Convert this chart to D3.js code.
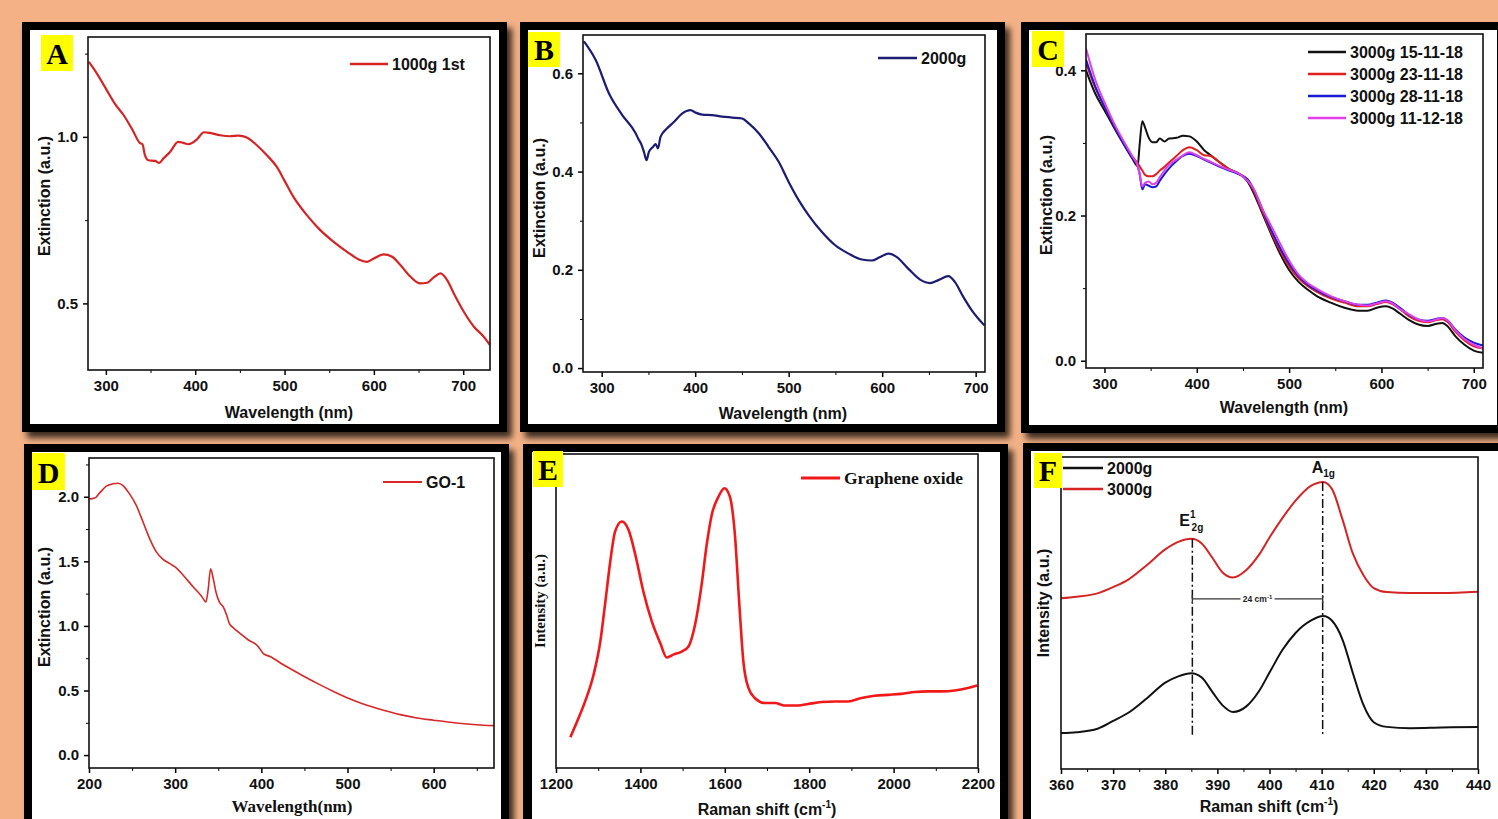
<!DOCTYPE html>
<html>
<head>
<meta charset="utf-8">
<script src="https://cdn.jsdelivr.net/npm/d3@7"></script>
<style>
  body { margin: 0; background: #f3b185; overflow: hidden; }
</style>
</head>
<body>
<script>
// ---- data ----
// A: 1000g 1st
const wlA = [281, 290, 300, 310, 320, 330, 338, 341, 343.7, 347.5, 355, 359.8, 364.3, 371.8, 381, 386.7, 392.3, 401.7, 409.9, 416.6, 427.9, 439, 448.4, 457.8, 469, 480.2, 491.4, 500.7, 510, 525, 540, 555, 570, 583, 592.3, 600, 611, 620.4, 629.7, 641, 652, 659.6, 667, 674.6, 682, 689.5, 700.7, 712, 723, 730];
const extA = [1.225, 1.19, 1.145, 1.10, 1.065, 1.02, 0.982, 0.978, 0.945, 0.93, 0.928, 0.922, 0.935, 0.955, 0.985, 0.982, 0.978, 0.992, 1.014, 1.012, 1.005, 1.002, 1.004, 0.998, 0.975, 0.945, 0.91, 0.865, 0.82, 0.765, 0.72, 0.685, 0.655, 0.632, 0.625, 0.635, 0.647, 0.64, 0.615, 0.58, 0.56, 0.562, 0.578, 0.59, 0.57, 0.53, 0.475, 0.43, 0.40, 0.375];

// B: 2000g
const wlB = [281, 293.6, 307.8, 322, 336.3, 339.1, 342.7, 345.2, 348, 350.5, 354.8, 357.7, 360.1, 363, 370, 377.2, 386, 395, 400.4, 407.5, 418.1, 428.8, 439.5, 450.2, 457.3, 468, 478.6, 489.3, 500, 510.7, 521.4, 535.6, 549.8, 564, 578.3, 588.9, 597.8, 606.8, 615.7, 628.1, 640.6, 651.2, 660.1, 670.8, 677.9, 686.8, 695.7, 709.3];
const extB = [0.665, 0.627, 0.559, 0.515, 0.478, 0.467, 0.454, 0.44, 0.423, 0.44, 0.45, 0.456, 0.447, 0.471, 0.488, 0.501, 0.518, 0.525, 0.52, 0.516, 0.515, 0.512, 0.51, 0.508, 0.498, 0.478, 0.45, 0.42, 0.379, 0.342, 0.311, 0.277, 0.25, 0.233, 0.221, 0.219, 0.226, 0.233, 0.226, 0.202, 0.18, 0.173, 0.179, 0.187, 0.175, 0.145, 0.118, 0.087];

// C: 3000g, four dates on one wavelength grid
const namesC = ["3000g 15-11-18", "3000g 23-11-18", "3000g 28-11-18", "3000g 11-12-18"];
const wlC = [280, 290, 300, 310, 320, 330, 336, 338, 341, 344, 348, 352, 356, 360, 365, 370, 378, 385, 392, 400, 408, 415, 425, 435, 445, 455, 462, 470, 480, 490, 500, 510, 520, 530, 545, 560, 575, 585, 595, 605, 612, 620, 630, 640, 650, 660, 666, 672, 680, 690, 700, 710];
const extC1 = [0.400, 0.368, 0.345, 0.322, 0.300, 0.279, 0.268, 0.296, 0.330, 0.321, 0.307, 0.301, 0.301, 0.306, 0.302, 0.306, 0.307, 0.310, 0.309, 0.302, 0.290, 0.283, 0.273, 0.264, 0.258, 0.247, 0.230, 0.206, 0.176, 0.148, 0.125, 0.109, 0.098, 0.089, 0.080, 0.073, 0.069, 0.069, 0.073, 0.075, 0.072, 0.065, 0.056, 0.050, 0.048, 0.051, 0.052, 0.047, 0.034, 0.022, 0.014, 0.011];
const extC2 = [0.410, 0.376, 0.350, 0.325, 0.303, 0.281, 0.272, 0.268, 0.262, 0.256, 0.254, 0.254, 0.257, 0.262, 0.267, 0.273, 0.282, 0.290, 0.294, 0.290, 0.283, 0.282, 0.273, 0.264, 0.258, 0.249, 0.233, 0.209, 0.179, 0.152, 0.130, 0.114, 0.103, 0.095, 0.086, 0.080, 0.075, 0.075, 0.078, 0.081, 0.078, 0.071, 0.061, 0.055, 0.053, 0.056, 0.057, 0.053, 0.040, 0.028, 0.020, 0.017];
const extC3 = [0.415, 0.378, 0.350, 0.325, 0.301, 0.280, 0.268, 0.258, 0.236, 0.243, 0.241, 0.239, 0.240, 0.248, 0.257, 0.265, 0.275, 0.282, 0.285, 0.282, 0.277, 0.273, 0.267, 0.262, 0.257, 0.250, 0.235, 0.212, 0.182, 0.156, 0.134, 0.117, 0.105, 0.097, 0.088, 0.082, 0.077, 0.077, 0.080, 0.083, 0.080, 0.073, 0.063, 0.057, 0.055, 0.058, 0.059, 0.055, 0.043, 0.032, 0.025, 0.021];
const extC4 = [0.430, 0.387, 0.356, 0.328, 0.304, 0.282, 0.268, 0.258, 0.240, 0.245, 0.247, 0.243, 0.245, 0.253, 0.262, 0.270, 0.277, 0.283, 0.287, 0.283, 0.278, 0.274, 0.268, 0.263, 0.258, 0.248, 0.236, 0.212, 0.187, 0.162, 0.138, 0.119, 0.107, 0.099, 0.089, 0.082, 0.077, 0.076, 0.079, 0.082, 0.079, 0.071, 0.064, 0.057, 0.054, 0.057, 0.059, 0.055, 0.042, 0.030, 0.022, 0.017];

// D: GO-1
const wlD = [200, 206.6, 212.4, 220.2, 228, 233.7, 239.5, 247.3, 255, 262.8, 270.5, 278.3, 286, 293.8, 301.6, 309.3, 321, 330.6, 335.7, 338.4, 341.1, 344.2, 347.3, 351.2, 355.8, 359.7, 362.8, 367.4, 375.2, 384.9, 394.6, 399.2, 402.3, 410.1, 425.6, 445, 464.3, 483.7, 503.1, 522.5, 541.9, 561.2, 580.6, 600, 619.4, 638.8, 658.1, 670];
const extD = [1.982, 1.99, 2.03, 2.082, 2.1, 2.105, 2.087, 2.02, 1.931, 1.803, 1.674, 1.571, 1.515, 1.482, 1.448, 1.392, 1.302, 1.23, 1.186, 1.289, 1.443, 1.366, 1.263, 1.186, 1.148, 1.084, 1.02, 0.986, 0.942, 0.891, 0.852, 0.814, 0.786, 0.763, 0.699, 0.626, 0.557, 0.493, 0.434, 0.385, 0.347, 0.313, 0.287, 0.27, 0.254, 0.241, 0.231, 0.228];

// E: Raman of graphene oxide (arbitrary intensity)
const shiftE = [1234, 1250, 1269, 1289, 1305, 1317, 1328.5, 1340, 1356, 1372, 1388, 1407, 1427, 1447, 1462.5, 1478, 1498, 1514, 1529.5, 1545, 1557, 1569, 1585, 1599, 1612, 1624, 1634, 1644, 1656, 1671, 1695, 1719, 1742, 1774, 1798, 1829, 1861, 1892, 1924, 1955, 1987, 2018, 2050, 2081, 2113, 2145, 2176, 2198];
const intE = [9.8, 14.8, 21.2, 29.7, 40.3, 53, 65.7, 75.3, 78.5, 75.8, 67.9, 56.2, 46.7, 39.8, 35.2, 36.1, 37.1, 38.7, 45.6, 58.3, 71, 80.6, 86.4, 89.1, 86.4, 74.2, 53, 33.9, 25.5, 22.3, 20.7, 20.7, 19.9, 19.9, 20.4, 21, 21.2, 21.2, 22.3, 23, 23.3, 23.6, 24.2, 24.4, 24.4, 24.7, 25.5, 26.3];

// F: MoS2 Raman, 2000g and 3000g (offset, arbitrary intensity)
const shiftF = [360, 363, 367, 370, 373, 376.5, 380, 382.5, 385, 387, 389, 391, 393, 395.5, 398, 400, 402.5, 405, 408, 410.3, 412, 414, 416, 418, 420, 422.5, 427, 433, 440];
const intF2000 = [11.5, 11.8, 12.9, 15.4, 18.1, 22.7, 27.7, 29.7, 30.7, 29.3, 24.8, 20.4, 18.3, 20.0, 25.0, 30.9, 38.2, 43.6, 47.6, 49.0, 47.5, 41.5, 30.7, 20.6, 15.0, 13.5, 13.1, 13.3, 13.5];
const intF3000 = [54.7, 55.2, 56.3, 58.3, 60.8, 65.4, 70.4, 72.8, 73.8, 72.3, 67.8, 63.0, 61.4, 63.7, 68.7, 74.2, 80.5, 86.0, 90.8, 92.0, 89.7, 80.0, 69.0, 62.2, 58.0, 56.7, 56.4, 56.4, 56.8];
const peaksF = [385.2, 410.2];

// ---- drawing ----
const W = 1498, H = 819;
const sans = "'Liberation Sans', Arial, sans-serif";
const serif = "'Liberation Serif', 'Times New Roman', serif";

const svg = d3.select("body").append("svg").attr("width", W).attr("height", H);
const defs = svg.append("defs");
defs.append("filter").attr("id", "shadow")
    .attr("x", "-5%").attr("y", "-5%").attr("width", "115%").attr("height", "115%")
  .append("feDropShadow")
    .attr("dx", 5).attr("dy", 6).attr("stdDeviation", 3)
    .attr("flood-color", "#000").attr("flood-opacity", 0.75);

svg.append("rect").attr("width", W).attr("height", H).attr("fill", "#f3b185");

function frame(o, i) {
    svg.append("rect")
        .attr("x", o[0]).attr("y", o[1])
        .attr("width", o[2] - o[0]).attr("height", o[3] - o[1])
        .attr("fill", "#000").attr("filter", "url(#shadow)");
    svg.append("rect")
        .attr("x", i[0]).attr("y", i[1])
        .attr("width", i[2] - i[0]).attr("height", i[3] - i[1])
        .attr("fill", "#fff");
}

let clipN = 0;
function panel(p) {
    frame(p.outer, p.inner);
    const [l, t, r, b] = p.plot;
    const x = d3.scaleLinear().domain(p.xDomain).range([l, r]);
    const y = d3.scaleLinear().domain(p.yDomain).range([b, t]);
    const g = svg.append("g");

    const id = "clip" + (clipN++);
    defs.append("clipPath").attr("id", id)
        .append("rect").attr("x", l).attr("y", t).attr("width", r - l).attr("height", b - t);
    const plotG = g.append("g").attr("clip-path", "url(#" + id + ")");

    // x axis
    g.append("g").attr("transform", "translate(0," + b + ")")
        .call(d3.axisBottom(x).tickValues(p.xMinor).tickSize(3).tickFormat(""))
        .call(a => a.select(".domain").remove());
    const xa = g.append("g").attr("transform", "translate(0," + b + ")")
        .call(d3.axisBottom(x).tickValues(p.xTicks).tickSize(5).tickPadding(5).tickFormat(d3.format("d")));
    xa.select(".domain").remove();
    xa.selectAll(".tick line").attr("stroke-width", 1.5);
    xa.selectAll("text").attr("font-family", sans).attr("font-size", 15)
        .attr("font-weight", "bold").attr("fill", "#111");

    // y axis
    if (p.yTicks) {
        g.append("g").attr("transform", "translate(" + l + ",0)")
            .call(d3.axisLeft(y).tickValues(p.yMinor).tickSize(3).tickFormat(""))
            .call(a => a.select(".domain").remove());
        const ya = g.append("g").attr("transform", "translate(" + l + ",0)")
            .call(d3.axisLeft(y).tickValues(p.yTicks).tickSize(5).tickPadding(5).tickFormat(d3.format(".1f")));
        ya.select(".domain").remove();
        ya.selectAll(".tick line").attr("stroke-width", 1.5);
        ya.selectAll("text").attr("font-family", sans).attr("font-size", 15)
            .attr("font-weight", "bold").attr("fill", "#111");
    }

    g.append("rect").attr("x", l).attr("y", t).attr("width", r - l).attr("height", b - t)
        .attr("fill", "none").attr("stroke", "#111").attr("stroke-width", 1.6);

    // axis titles
    const xt = g.append("text").attr("x", p.xTitle[0]).attr("y", p.xTitle[1])
        .attr("text-anchor", "middle").attr("font-family", p.xFont || sans)
        .attr("font-size", p.xFontSize || 16).attr("font-weight", "bold").attr("fill", "#111");
    if (p.xSup) {
        xt.append("tspan").text(p.xLabel);
        xt.append("tspan").attr("font-size", 10).attr("dy", -7).text("-1");
        xt.append("tspan").attr("dy", 7).text(")");
    } else {
        xt.text(p.xLabel);
    }
    g.append("text")
        .attr("transform", "translate(" + p.yTitle[0] + "," + p.yTitle[1] + ") rotate(-90)")
        .attr("text-anchor", "middle").attr("dy", "0.35em")
        .attr("font-family", p.yFont || sans).attr("font-size", p.yFontSize || 16)
        .attr("font-weight", "bold").attr("fill", "#111")
        .text(p.yLabel);

    return { g, plotG, x, y };
}

function drawLine(P, xs, ys, color, width) {
    const line = d3.line()
        .x((d, i) => P.x(xs[i]))
        .y(d => P.y(d))
        .curve(d3.curveMonotoneX);
    P.plotG.append("path")
        .datum(ys)
        .attr("fill", "none")
        .attr("stroke", color)
        .attr("stroke-width", width)
        .attr("stroke-linejoin", "round")
        .attr("d", line);
}

function legend(items, x0, x1, y0, dy, font, width, size) {
    items.forEach((it, i) => {
        const yy = y0 + i * dy;
        svg.append("line").attr("x1", x0).attr("x2", x1).attr("y1", yy).attr("y2", yy)
            .attr("stroke", it.color).attr("stroke-width", width);
        svg.append("text").attr("x", x1 + 4).attr("y", yy).attr("dy", "0.35em")
            .attr("font-family", font || sans).attr("font-size", size || 16).attr("font-weight", "bold")
            .attr("fill", "#111").text(it.name);
    });
}

function tag(x, y, w, h, letter) {
    svg.append("rect").attr("x", x).attr("y", y).attr("width", w).attr("height", h).attr("fill", "#ffff00");
    svg.append("text").attr("x", x + w / 2).attr("y", y + h - 7)
        .attr("text-anchor", "middle").attr("font-family", serif)
        .attr("font-size", 30).attr("font-weight", "bold").attr("fill", "#000").text(letter);
}

const wlMinor300 = [350, 450, 550, 650];

// Panel A
const PA = panel({
    outer: [22, 22, 507, 432], inner: [30, 30, 499, 424], plot: [88, 37, 490, 370],
    xDomain: [280, 730], yDomain: [0.3, 1.3],
    xTicks: [300, 400, 500, 600, 700], xMinor: wlMinor300,
    yTicks: [0.5, 1.0], yMinor: [0.75, 1.25],
    xLabel: "Wavelength (nm)", xTitle: [289, 418],
    yLabel: "Extinction (a.u.)", yTitle: [44, 196]
});
drawLine(PA, wlA, extA, "#d42424", 2.2);
legend([{ name: "1000g 1st", color: "#d42424" }], 350, 388, 64, 0, sans, 2.5);

// Panel B
const PB = panel({
    outer: [520, 22, 1005, 432], inner: [528, 30, 997, 424], plot: [583, 35, 985, 372],
    xDomain: [280, 710], yDomain: [-0.008, 0.678],
    xTicks: [300, 400, 500, 600, 700], xMinor: wlMinor300,
    yTicks: [0.0, 0.2, 0.4, 0.6], yMinor: [0.1, 0.3, 0.5],
    xLabel: "Wavelength (nm)", xTitle: [783, 419],
    yLabel: "Extinction (a.u.)", yTitle: [539, 198]
});
drawLine(PB, wlB, extB, "#1c1c72", 2.2);
legend([{ name: "2000g", color: "#1c1c72" }], 878, 917, 58, 0, sans, 2.5);

// Panel C
const PC = panel({
    outer: [1021, 22, 1515, 433], inner: [1029, 30, 1497, 425], plot: [1086, 34, 1483, 368],
    xDomain: [280, 710], yDomain: [-0.01, 0.45],
    xTicks: [300, 400, 500, 600, 700], xMinor: wlMinor300,
    yTicks: [0.0, 0.2, 0.4], yMinor: [0.1, 0.3],
    xLabel: "Wavelength (nm)", xTitle: [1284, 413],
    yLabel: "Extinction (a.u.)", yTitle: [1046, 195]
});
const colorsC = ["#111111", "#e0201c", "#1a1ad0", "#e040e8"];
[extC1, extC2, extC3, extC4].forEach((s, i) => drawLine(PC, wlC, s, colorsC[i], 2));
legend(namesC.map((n, i) => ({ name: n, color: colorsC[i] })), 1308, 1346, 52, 22, sans, 2.5);

// Panel D
const PD = panel({
    outer: [24, 444, 509, 850], inner: [32, 452, 501, 842], plot: [89, 458, 494, 768],
    xDomain: [200, 670], yDomain: [-0.1, 2.3],
    xTicks: [200, 300, 400, 500, 600], xMinor: [250, 350, 450, 550, 650],
    yTicks: [0.0, 0.5, 1.0, 1.5, 2.0], yMinor: [0.25, 0.75, 1.25, 1.75, 2.25],
    xLabel: "Wavelength(nm)", xTitle: [292, 812], xFont: serif, xFontSize: 17,
    yLabel: "Extinction (a.u.)", yTitle: [44, 607]
});
drawLine(PD, wlD, extD, "#d62828", 1.6);
legend([{ name: "GO-1", color: "#d62828" }], 383, 422, 482, 0, sans, 1.8);

// Panel E
const PE = panel({
    outer: [523, 444, 1008, 850], inner: [532, 452, 1000, 842], plot: [556, 454, 978, 768],
    xDomain: [1200, 2200], yDomain: [0, 100],
    xTicks: [1200, 1400, 1600, 1800, 2000, 2200], xMinor: [1300, 1500, 1700, 1900, 2100],
    xLabel: "Raman shift (cm", xSup: true, xTitle: [767, 815],
    yLabel: "Intensity (a.u.)", yTitle: [540, 601], yFont: serif, yFontSize: 15
});
drawLine(PE, shiftE, intE, "#f01818", 2.6);
legend([{ name: "Graphene oxide", color: "#f01818" }], 801, 840, 478, 0, serif, 3, 17.5);

// Panel F
const PF = panel({
    outer: [1023, 443, 1515, 850], inner: [1031, 451, 1502, 842], plot: [1061, 457, 1478, 769],
    xDomain: [360, 440], yDomain: [0, 100],
    xTicks: [360, 370, 380, 390, 400, 410, 420, 430, 440], xMinor: [365, 375, 385, 395, 405, 415, 425, 435],
    xLabel: "Raman shift (cm", xSup: true, xTitle: [1269, 812],
    yLabel: "Intensity (a.u.)", yTitle: [1043, 603]
});
drawLine(PF, shiftF, intF2000, "#111111", 2);
drawLine(PF, shiftF, intF3000, "#d42424", 2);

// peak guides
const peakTop = [73.8, 92.0];
peaksF.forEach((p, i) => {
    PF.g.append("line")
        .attr("x1", PF.x(p)).attr("x2", PF.x(p))
        .attr("y1", PF.y(peakTop[i])).attr("y2", PF.y(10.4))
        .attr("stroke", "#111").attr("stroke-width", 1.5)
        .attr("stroke-dasharray", "9,3,2,3");
});
const barY = PF.y(54.5);
PF.g.append("line").attr("x1", PF.x(peaksF[0])).attr("x2", PF.x(peaksF[1]))
    .attr("y1", barY).attr("y2", barY).attr("stroke", "#333").attr("stroke-width", 1.3);
peaksF.forEach(p => {
    PF.g.append("line").attr("x1", PF.x(p)).attr("x2", PF.x(p))
        .attr("y1", barY - 4).attr("y2", barY + 4).attr("stroke", "#333").attr("stroke-width", 1.3);
});
const midF = (peaksF[0] + peaksF[1]) / 2;
PF.g.append("rect").attr("x", PF.x(midF) - 17).attr("y", barY - 5).attr("width", 34).attr("height", 10).attr("fill", "#fff");
const lab24 = PF.g.append("text").attr("x", PF.x(midF)).attr("y", barY).attr("dy", "0.35em")
    .attr("text-anchor", "middle").attr("font-family", sans).attr("font-size", 8.5)
    .attr("font-weight", "bold").attr("fill", "#222");
lab24.append("tspan").text("24 cm");
lab24.append("tspan").attr("font-size", 6).attr("dy", -3).text("-1");

const eLab = PF.g.append("text").attr("x", PF.x(peaksF[0]) - 13).attr("y", 526)
    .attr("font-family", sans).attr("font-size", 16).attr("font-weight", "bold").attr("fill", "#111");
eLab.append("tspan").text("E");
eLab.append("tspan").attr("font-size", 10).attr("dy", -8).text("1");
eLab.append("tspan").attr("font-size", 10).attr("dx", -4).attr("dy", 13).text("2g");
const aLab = PF.g.append("text").attr("x", PF.x(peaksF[1]) - 11).attr("y", 473)
    .attr("font-family", sans).attr("font-size", 16).attr("font-weight", "bold").attr("fill", "#111");
aLab.append("tspan").text("A");
aLab.append("tspan").attr("font-size", 10).attr("dy", 4).text("1g");

legend([{ name: "2000g", color: "#111111" }, { name: "3000g", color: "#d42424" }], 1063, 1103, 468, 21, sans, 2.5);

// panel letters
tag(41, 35, 32, 36, "A");
tag(528, 32, 32, 35, "B");
tag(1032, 31, 32, 36, "C");
tag(32, 453, 33, 37, "D");
tag(533, 451, 30, 36, "E");
tag(1034, 453, 28, 35, "F");
</script>
</body>
</html>
